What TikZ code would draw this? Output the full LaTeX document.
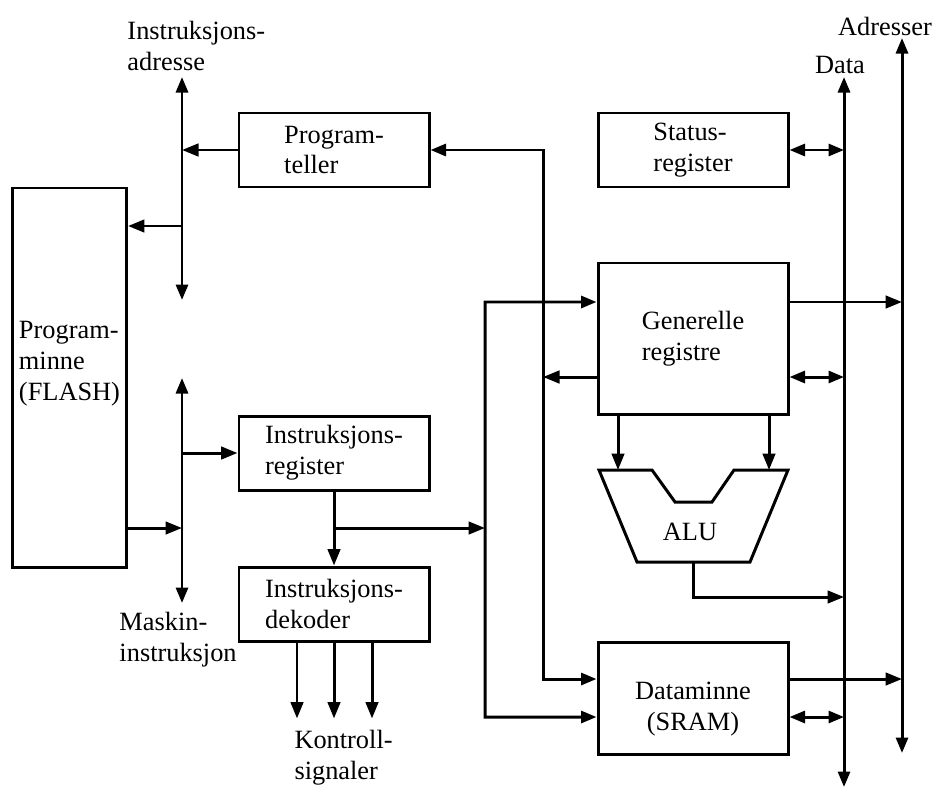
\documentclass[tikz,border=0pt]{standalone}
\usepackage{fontspec}
\setmainfont{Liberation Serif}
\usetikzlibrary{arrows.meta,positioning}

\begin{document}
\begin{tikzpicture}[x=0.2mm, y=-0.2mm, line width=1.7pt, every node/.style={font=\fontsize{15}{17.5}\selectfont, inner sep=0pt}, box/.style={draw, align=left, minimum width=38mm, minimum height=14.8mm}, arr/.style={-{Triangle[length=3.3mm,width=2.5mm]}}, darr/.style={{Triangle[length=3.1mm,width=2.4mm]}-{Triangle[length=3.1mm,width=2.4mm]}}]
\useasboundingbox (0,0) rectangle (934,789);
% blocks
\node[box, minimum width=22.8mm, minimum height=75.8mm, label={[align=left, yshift=2.8mm]center:{Program-\\minne\\(FLASH)}}] (pmem) at (69.5,377.5) {};
\node[box] (pc) at (334,150) {Program-\\teller};
\node[box] (stat) at (693,150) {Status-\\register};
\node[box] (ireg) at (334,453) {Instruksjons-\\register};
\node[box] (idec) at (334,604) {Instruksjons-\\dekoder};
\node[box, minimum height=30.2mm] (greg) at (693,338.5) {Generelle\\registre};
\node[box, minimum height=22.4mm, label={[align=center, yshift=-2.2mm]center:{Dataminne\\(SRAM)}}] (dmem) at (693,698) {};
% ALU
\draw (599,470) -- (652,470) -- (675,502) -- (712,502) -- (734,470) -- (788,470) -- (750,562) -- (637,562) -- cycle;
\node (alu) at (690,532) {ALU};
\coordinate (alu-in1) at (618,470);
\coordinate (alu-in2) at (769,470);
\coordinate (alu-out) at (693,562);
% buses and lanes
\coordinate (iatop) at (182,77); \coordinate (iabot) at (182,300);
\coordinate (mitop) at (182,378); \coordinate (mibot) at (182,603);
\coordinate (dtop) at (844,77); \coordinate (dbot) at (844,787);
\coordinate (atop) at (902,38); \coordinate (abot) at (902,753);
\coordinate (lane1) at (543,150); \coordinate (lane2) at (485,302);
\coordinate (ia-pm) at (182,226); \coordinate (mi-pm) at (182,528);
\coordinate (d-alu) at (844,597);
\draw[darr] (iabot) -- (iatop);
\draw[darr] (mibot) -- (mitop);
\draw[darr] (dbot) -- (dtop);
\draw[darr] (abot) -- (atop);
% labels
\node[align=left, anchor=west] (ialbl) at (126,46) {Instruksjons-\\adresse};
\node (dlbl) at (840,65) {Data};
\node (albl) at (885,26) {Adresser};
\node[align=left, anchor=west] (milbl) at (118,640) {Maskin-\\instruksjon};
\node[align=left, anchor=west] (kslbl) at (293,758) {Kontroll-\\signaler};
% program side
\draw[arr] (pc.west) -- (pc.west -| iatop);
\draw[arr] (ia-pm) -- (ia-pm -| pmem.east);
\draw[arr] (mi-pm -| pmem.east) -- (mi-pm);
\draw[arr] (ireg.west -| mitop) -- (ireg.west);
\draw[arr] (ireg.south) -- (idec.north);
\draw[arr] (ireg.south |- mi-pm) -- (mi-pm -| lane2);
\foreach \dx in {-7.4mm,0mm,7.6mm}
  \draw[arr] ([xshift=\dx]idec.south) -- ++(0,76);
% data side
\draw[darr] (pc.east) -- (lane1) |- ([yshift=3.8mm]dmem.west);
\draw[darr] ([yshift=7.3mm]greg.west) -- (lane2) |- ([yshift=-3.8mm]dmem.west);
\path ([yshift=-7.7mm]greg.west) coordinate (gr-l)
      ([yshift=7.3mm]greg.east) coordinate (gr-a)
      ([yshift=-7.7mm]greg.east) coordinate (gr-d)
      ([yshift=3.8mm]dmem.east) coordinate (dm-a)
      ([yshift=-3.8mm]dmem.east) coordinate (dm-d);
\draw[arr] (gr-l) -- (gr-l -| lane1);
\draw[darr] (stat.east) -- (stat.east -| dtop);
\draw[arr] (gr-a) -- (gr-a -| atop);
\draw[darr] (gr-d) -- (gr-d -| dtop);
\draw[arr] (dm-a) -- (dm-a -| atop);
\draw[darr] (dm-d) -- (dm-d -| dtop);
\draw[arr] (greg.south -| alu-in1) -- (alu-in1);
\draw[arr] (greg.south -| alu-in2) -- (alu-in2);
\draw[arr] (alu-out) |- (d-alu);
\end{tikzpicture}
\end{document}
